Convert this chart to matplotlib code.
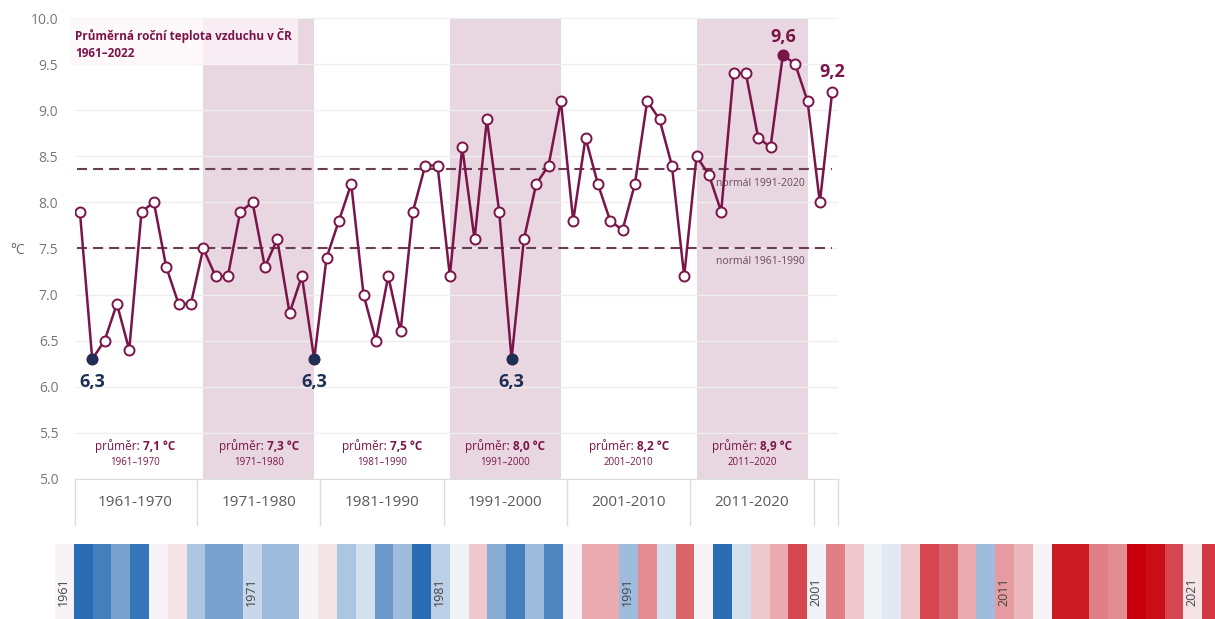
import numpy as np
import matplotlib.pyplot as plt
from matplotlib.colors import LinearSegmentedColormap, TwoSlopeNorm
from matplotlib.patches import Rectangle

plt.rcParams['font.family'] = ['Open Sans', 'DejaVu Sans']

# annual mean air temperature, Czech Republic
years = list(range(1961, 2023))
temps = [7.9, 6.3, 6.5, 6.9, 6.4, 7.9, 8.0, 7.3, 6.9, 6.9,
         7.5, 7.2, 7.2, 7.9, 8.0, 7.3, 7.6, 6.8, 7.2, 6.3,
         7.4, 7.8, 8.2, 7.0, 6.5, 7.2, 6.6, 7.9, 8.4, 8.4,
         7.2, 8.6, 7.6, 8.9, 7.9, 6.3, 7.6, 8.2, 8.4, 9.1,
         7.8, 8.7, 8.2, 7.8, 7.7, 8.2, 9.1, 8.9, 8.4, 7.2,
         8.5, 8.3, 7.9, 9.4, 9.4, 8.7, 8.6, 9.6, 9.5, 9.1,
         8.0, 9.2]

decade_labels = ['1961-1970', '1971-1980', '1981-1990', '1991-2000', '2001-2010', '2011-2020']
decade_ranges = ['1961–1970', '1971–1980', '1981–1990', '1991–2000', '2001–2010', '2011–2020']
decade_means = ['7,1 °C', '7,3 °C', '7,5 °C', '8,0 °C', '8,2 °C', '8,9 °C']
decade_starts = [1961, 1971, 1981, 1991, 2001, 2011]

band_starts = [1971, 1991, 2011]
band_ends = [1980, 2000, 2020]

normals = [8.36, 7.5]
normal_labels = ['normál 1991-2020', 'normál 1961-1990']

min_years = [1962, 1980, 1996]
max_year = 2018
last_year = 2022

MAROON = '#7a1449'
NAVY = '#1d2f55'
GREY = '#6a6a6a'


def main():
    fig = plt.figure(figsize=(12.15, 6.19), dpi=100)
    ax = fig.add_axes([0.0617, 0.2262, 0.628, 0.7447])
    t = dict(zip(years, temps))

    # shaded decades
    for s, e in zip(band_starts, band_ends):
        ax.axvspan(s, e, color='#e8d6e0', lw=0, zorder=0)

    ax.set_xlim(1960.6, 2022.47)
    ax.set_ylim(5, 10)
    ax.set_yticks(np.arange(5, 10.01, 0.5))
    ax.set_yticklabels([f'{v:.1f}' for v in np.arange(5, 10.01, 0.5)])
    ax.yaxis.grid(True, color='#eeeeee', lw=1, zorder=0.5)
    ax.set_axisbelow(True)
    ax.tick_params(axis='y', length=0, pad=12, labelsize=10, labelcolor='#777777')
    ax.set_xticks([])
    for sp in ['top', 'right', 'left']:
        ax.spines[sp].set_visible(False)
    ax.spines['bottom'].set_color('#dddddd')

    # decade boxes under the axis
    xt = ax.get_xaxis_transform()
    for x in [1960.6, 1970.5, 1980.5, 1990.5, 2000.5, 2010.5, 2020.5, 2022.47]:
        ax.plot([x, x], [0, -0.1], transform=xt, color='#dddddd', lw=1, clip_on=False)
    for s, lab in zip(decade_starts, decade_labels):
        ax.text(s + 4.5, -0.05, lab, transform=xt, ha='center', va='center',
                fontsize=11, color='#5a5a5a')

    # normals
    for v, lab, ly in zip(normals, normal_labels, [8.21, 7.36]):
        ax.hlines(v, 1960.8, 2022.0, colors='#6b3d55', lw=1.5, linestyles=(0, (4.8, 2.9)), zorder=2)
        ax.text(2016.2, ly, lab, ha='center', va='center', fontsize=7.5, color='#6b4a5c')

    # temperature line
    ax.plot(years, temps, color=MAROON, lw=1.8, zorder=3)
    ax.plot(years, temps, 'o', ms=7.2, mfc='white', mec=MAROON, mew=1.4, zorder=4)
    ax.plot(min_years, [t[y] for y in min_years], 'o', ms=7.2, mfc=NAVY, mec=NAVY, zorder=5)
    ax.plot([max_year], [t[max_year]], 'o', ms=7.2, mfc=MAROON, mec=MAROON, zorder=5)

    for y in min_years:
        ax.annotate(f'{t[y]:.1f}'.replace('.', ','), (y, t[y]), xytext=(0, -16.5),
                    textcoords='offset points', ha='center', va='center',
                    fontsize=13, fontweight='bold', color=NAVY)
    for y, off in [(max_year, 13), (last_year, 14.4)]:
        ax.annotate(f'{t[y]:.1f}'.replace('.', ','), (y, t[y]), xytext=(0, off),
                    textcoords='offset points', ha='center', va='center',
                    fontsize=13, fontweight='bold', color=MAROON)

    # decade averages
    pairs = []
    for s, m, r in zip(decade_starts, decade_means, decade_ranges):
        cx = s + 4.5
        t1 = ax.text(cx, 5.36, 'průměr:', ha='left', va='center', fontsize=8.5, color=MAROON)
        t2 = ax.annotate(' ' + m, xy=(1, 0), xycoords=t1, ha='left', va='bottom',
                         fontsize=8.5, fontweight='bold', color=MAROON)
        ax.text(cx, 5.18, r, ha='center', va='center', fontsize=7, color=MAROON)
        pairs.append((cx, t1, t2))

    # title box
    ax.add_patch(Rectangle((-0.0066, 0.898), 0.299, 0.102, transform=ax.transAxes,
                           facecolor='#fdf6f9', alpha=0.75, lw=0, zorder=1, clip_on=False))
    ax.text(0.0, 0.963, 'Průměrná roční teplota vzduchu v ČR', transform=ax.transAxes,
            ha='left', va='center', fontsize=8.5, fontweight='bold', color=MAROON)
    ax.text(0.0, 0.922, '1961–2022', transform=ax.transAxes,
            ha='left', va='center', fontsize=8.5, fontweight='bold', color=MAROON)

    fig.text(18 / 1215, 1 - 250 / 619, '°C', ha='center', va='center', fontsize=10, color='#666666')

    # warming stripes
    ax2 = fig.add_axes([0.04486, 0, 0.9593, 0.1212])
    cmap = LinearSegmentedColormap.from_list('stripes', ['#2a6db5', '#f8f8fb', '#c8000a'])
    norm = TwoSlopeNorm(vmin=min(temps), vcenter=np.mean(temps), vmax=max(temps))
    ax2.imshow(np.array(temps)[np.newaxis, :], cmap=cmap, norm=norm, aspect='auto',
               extent=(years[0] - 0.5, years[-1] + 0.5, 0, 1))
    ax2.set_xlim(years[0] - 0.5, years[-1] + 0.5)
    ax2.set_ylim(0, 1)
    ax2.axis('off')
    for y in years:
        if y % 10 == 1:
            ax2.text(y, 0.36, str(y), rotation=90, ha='center', va='center',
                     fontsize=9, color='#444444')

    # centre the two-part average labels
    fig.canvas.draw()
    r = fig.canvas.get_renderer()
    for cx, t1, t2 in pairs:
        b1 = t1.get_window_extent(r)
        b2 = t2.get_window_extent(r)
        w = b2.x1 - b1.x0
        x0 = ax.transData.transform((cx, 5.36))[0] - w / 2
        t1.set_x(ax.transData.inverted().transform((x0, 0))[0])

    fig.savefig('out.png', dpi=100)


if __name__ == "__main__":
    main()
